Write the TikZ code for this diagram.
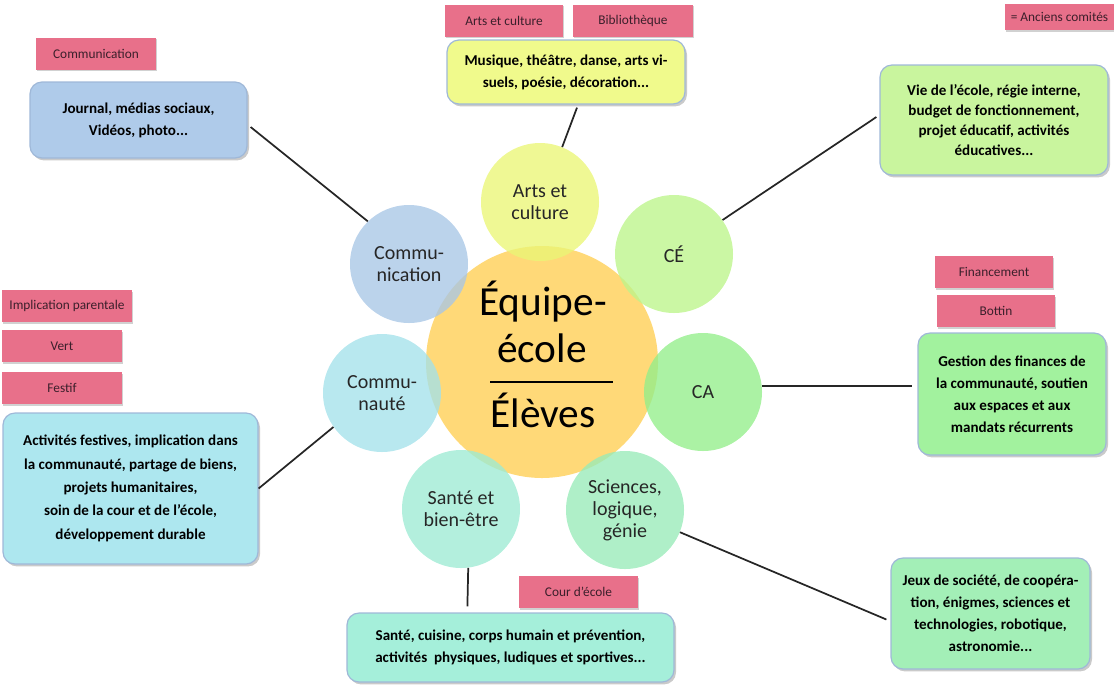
\documentclass[tikz,border=0pt]{standalone}
\usepackage{fontspec}
\setmainfont{Carlito}
\usetikzlibrary{shadows,calc}
\definecolor{cCentral}{HTML}{FFD978}
\definecolor{cArts}{HTML}{EAF676}
\definecolor{cCE}{HTML}{BDF58B}
\definecolor{cCA}{HTML}{93EE8A}
\definecolor{cSci}{HTML}{98EBB8}
\definecolor{cSante}{HTML}{9DEBD3}
\definecolor{cComt}{HTML}{A4E1EA}
\definecolor{cComm}{HTML}{A8C6E6}
\definecolor{bComm}{HTML}{AFCBEA}
\definecolor{bArts}{HTML}{F0FA8C}
\definecolor{bCE}{HTML}{C9F59E}
\definecolor{bCA}{HTML}{A2F29E}
\definecolor{bComt}{HTML}{ADE7EF}
\definecolor{bSante}{HTML}{A5EFDA}
\definecolor{bSci}{HTML}{A3EFB7}
\definecolor{boxline}{HTML}{9FB8D8}
\definecolor{cPink}{HTML}{E8708A}
\definecolor{cPinkText}{HTML}{3B1F2B}
\begin{document}
\begin{tikzpicture}[x=0.75pt,y=-0.75pt,
  petal/.style={circle, minimum size=88.5pt, inner sep=0pt, fill opacity=0.78, text opacity=1,
    align=center, font=\fontsize{15}{16.5}\selectfont, text=black!85},
  infobox/.style={rounded corners=9pt, draw=boxline, line width=0.9pt, align=center,
    font=\bfseries\fontsize{11.3}{16.5}\selectfont, inner sep=0pt,
    drop shadow={shadow xshift=1.5pt, shadow yshift=-1.8pt, opacity=0.35, fill=black!60}},
  pinkbox/.style={fill=cPink, minimum height=24pt, inner sep=0pt,
    font=\fontsize{10}{12}\selectfont, text=cPinkText,
    drop shadow={shadow xshift=1pt, shadow yshift=-1.2pt, opacity=0.3, fill=black!60}},
  bigtxt/.style={font=\fontsize{31}{36}\selectfont, inner sep=0pt, text=black},
  conn/.style={line width=1.3pt, draw=black!85}
]
\useasboundingbox (0,0) rectangle (1114,687);

% central circle
\node[circle, minimum size=174pt, inner sep=0pt, fill=cCentral] (center) at (542,362) {};

% petals
\node[petal, fill=cArts] (arts) at (540,202) {Arts et\\culture};
\node[petal, fill=cCE] (ce) at (674,254) {CÉ};
\node[petal, fill=cCA] (ca) at (703,392) {CA};
\node[petal, fill=cSci] (sci) at (625,510) {Sciences,\\logique,\\génie};
\node[petal, fill=cSante] (sante) at (461,509) {Santé et\\bien-être};
\node[petal, fill=cComt] (comt) at (382,393) {Commu-\\nauté};
\node[petal, fill=cComm] (comm) at (409,264) {Commu-\\nication};

% central text
\node[bigtxt, anchor=base] (t1) at (543,315) {Équipe-};
\node[bigtxt, anchor=base] (t2) at (542,362) {école};
\node[bigtxt, anchor=base] (t3) at (543,427) {Élèves};
\coordinate (rl) at (490,382);
\coordinate (rr) at (613,382);
\draw[line width=2.2pt] (rl) -- (rr);

% info boxes
\node[infobox, fill=bComm, minimum width=162.75pt, minimum height=57pt] (commbox) at (138.5,120)
  {Journal, médias sociaux,\\Vidéos, photo...};
\node[infobox, fill=bArts, minimum width=178.5pt, minimum height=48pt] (artsbox) at (566,72)
  {Musique, théâtre, danse, arts vi-\\suels, poésie, décoration...};
\node[infobox, fill=bCE, minimum width=171pt, minimum height=82.5pt,
  font=\bfseries\fontsize{11.3}{15.2}\selectfont] (cebox) at (994,120)
  {Vie de l'école, régie interne,\\budget de fonctionnement,\\projet éducatif, activités\\éducatives...};
\node[infobox, fill=bCA, minimum width=141pt, minimum height=91.5pt] (cabox) at (1012,394)
  {Gestion des finances de\\la communauté, soutien\\aux espaces et aux\\mandats récurrents};
\node[infobox, fill=bComt, minimum width=191.25pt, minimum height=113.25pt,
  font=\bfseries\fontsize{11.3}{17.5}\selectfont] (comtbox) at (130.5,488.5)
  {Activités festives, implication dans\\la communauté, partage de biens,\\projets humanitaires,\\soin de la cour et de l’école,\\développement durable};
\node[infobox, fill=bSante, minimum width=245.25pt, minimum height=51.75pt] (santebox) at (510.5,647.5)
  {Santé, cuisine, corps humain et prévention,\\activités\ \ physiques, ludiques et sportives...};
\node[infobox, fill=bSci, minimum width=149.25pt, minimum height=83.25pt] (scibox) at (990.5,613.5)
  {Jeux de société, de coopéra-\\tion, énigmes, sciences et\\technologies, robotique,\\astronomie...};

% pink labels
\node[pinkbox, minimum width=90pt] (pcomm) at (96,53.5) {Communication};
\node[pinkbox, minimum width=88.5pt] (parts) at (504,20.5) {Arts et culture};
\node[pinkbox, minimum width=90pt] (pbib) at (633,20.5) {Bibliothèque};
\node[pinkbox, minimum width=81.75pt, minimum height=19.5pt] (panc) at (1059.5,17) {= Anciens comités};
\node[pinkbox, minimum width=88.5pt] (pfin) at (994,272) {Financement};
\node[pinkbox, minimum width=88.5pt] (pbot) at (996,311) {Bottin};
\node[pinkbox, minimum width=97.5pt] (pimp) at (67,306) {Implication parentale};
\node[pinkbox, minimum width=90pt] (pvert) at (62,346) {Vert};
\node[pinkbox, minimum width=90pt] (pfest) at (62,388) {Festif};
\node[pinkbox, minimum width=89.25pt] (pcour) at (578.5,592) {Cour d’école};

% connectors
\draw[conn] ($(commbox.east)+(3,7)$) -- (comm.134);
\draw[conn] ($(artsbox.south)+(11,3)$) -- (arts.68);
\draw[conn] ($(cebox.west)+(-3,-3)$) -- (ce.35);
\draw[conn] (ca.6) -- ($(ca.6 -| cabox.west)+(-5,0)$);
\draw[conn] (comtbox.east) -- (comt.215);
\draw[conn] (sante.-83) -- ($(santebox.north west)+(121,-6)$);
\draw[conn] (sci.-22) -- ($(scibox.west)+(-4,6)$);
\end{tikzpicture}
\end{document}
